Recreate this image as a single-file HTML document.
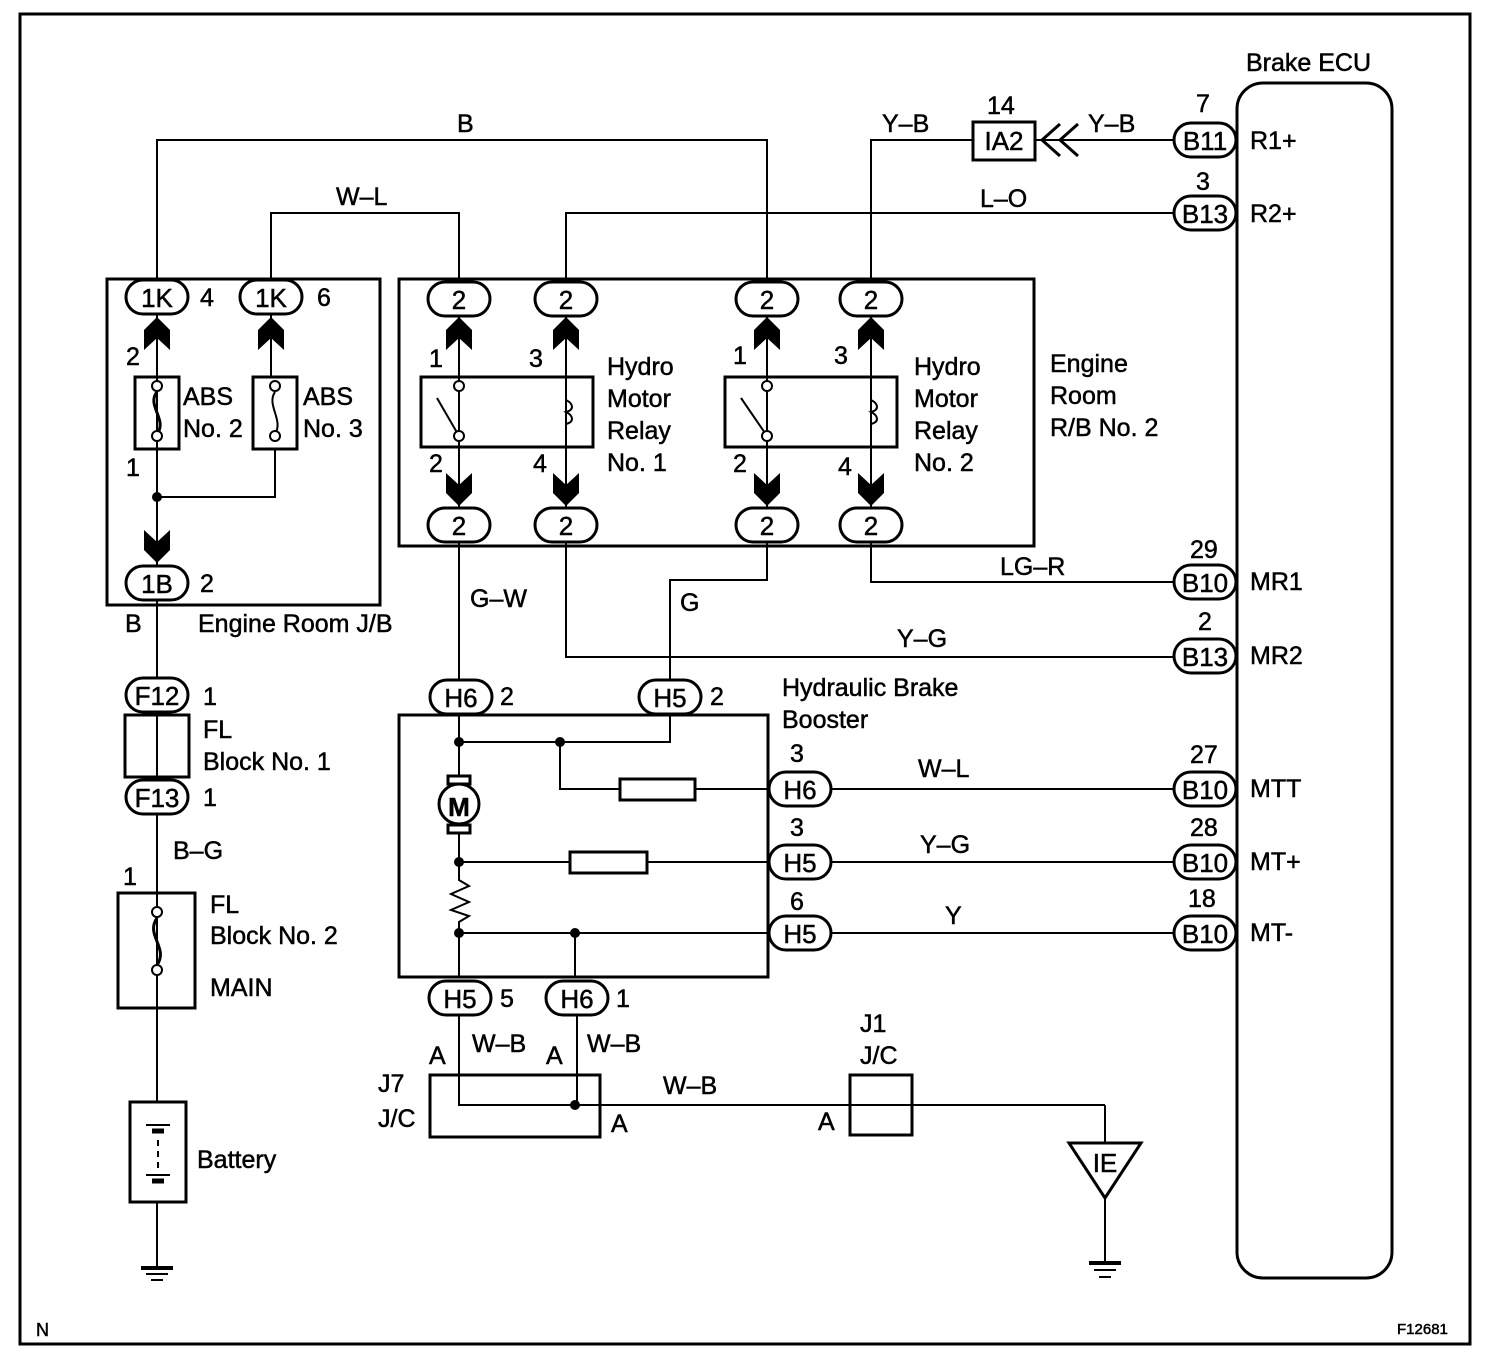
<!DOCTYPE html>
<html><head><meta charset="utf-8"><style>
html,body{margin:0;padding:0;background:#fff;}
svg{display:block;}
text{font-family:"Liberation Sans",Arial,sans-serif;fill:#000;stroke:#000;stroke-width:0.5;}
</style></head><body>
<svg width="1504" height="1364" viewBox="0 0 1504 1364" xmlns="http://www.w3.org/2000/svg">
<defs>
<g id="dn"><polygon points="-13,0 0,12 13,0 13,20 0,33 -13,20" fill="#000"/></g>
<g id="up"><polygon points="-13,0 0,-12 13,0 13,-20 0,-33 -13,-20" fill="#000"/></g>
</defs>
<g fill="none" stroke="#000" stroke-width="3">
<rect x="20" y="14" width="1450" height="1330" stroke-width="3"/>
<rect x="1237" y="83" width="155" height="1195" rx="26"/>
<rect x="107" y="279" width="273" height="326"/>
<rect x="399" y="279" width="635" height="267"/>
<rect x="421" y="377" width="172" height="70"/>
<rect x="725" y="377" width="172" height="70"/>
<rect x="135" y="377" width="44" height="72"/>
<rect x="253" y="377" width="44" height="72"/>
<rect x="125" y="715" width="64" height="62"/>
<rect x="118" y="893" width="77" height="115"/>
<rect x="130" y="1102" width="56" height="100"/>
<rect x="399" y="715" width="369" height="262"/>
<rect x="430" y="1075" width="170" height="62"/>
<rect x="850" y="1075" width="62" height="60"/>
<rect x="973" y="122" width="62" height="38"/>
<polyline points="157,279 157,140 767,140 767,281" stroke-width="2"/>
<polyline points="271,279 271,213 459,213 459,281" stroke-width="2"/>
<polyline points="566,281 566,213 1173,213" stroke-width="2"/>
<polyline points="871,281 871,140 973,140" stroke-width="2"/>
<line x1="1035" y1="140" x2="1173" y2="140" stroke-width="2"/>
<polyline points="1060,124 1042,140 1060,156" stroke-width="3"/>
<polyline points="1078,124 1060,140 1078,156" stroke-width="3"/>
<line x1="157" y1="315" x2="157" y2="565" stroke-width="2"/>
<line x1="271" y1="315" x2="271" y2="377" stroke-width="2"/>
<polyline points="157,497 275,497 275,449" stroke-width="2"/>
<line x1="459" y1="315" x2="459" y2="507" stroke-width="2"/>
<line x1="566" y1="315" x2="566" y2="507" stroke-width="2"/>
<line x1="767" y1="315" x2="767" y2="507" stroke-width="2"/>
<line x1="871" y1="315" x2="871" y2="507" stroke-width="2"/>
<line x1="459" y1="543" x2="459" y2="680" stroke-width="2"/>
<polyline points="566,543 566,657 1173,657" stroke-width="2"/>
<polyline points="767,543 767,580 670,580 670,680" stroke-width="2"/>
<polyline points="871,543 871,582 1173,582" stroke-width="2"/>
<line x1="157" y1="601" x2="157" y2="680" stroke-width="2"/>
<line x1="157" y1="713" x2="157" y2="780" stroke-width="2"/>
<line x1="157" y1="815" x2="157" y2="1102" stroke-width="2"/>
<line x1="157" y1="1202" x2="157" y2="1268" stroke-width="2"/>
<polyline points="459,715 459,780" stroke-width="2"/>
<polyline points="459,742 670,742 670,715" stroke-width="2"/>
<polyline points="560,742 560,789 620,789" stroke-width="2"/>
<line x1="695" y1="789" x2="768" y2="789" stroke-width="2"/>
<rect x="620" y="779" width="75" height="21"/>
<line x1="459" y1="828" x2="459" y2="870" stroke-width="2"/>
<line x1="459" y1="862" x2="570" y2="862" stroke-width="2"/>
<rect x="570" y="852" width="77" height="21"/>
<line x1="647" y1="862" x2="768" y2="862" stroke-width="2"/>
<polyline points="459,870 459,880 469,886 451,894 469,902 451,910 469,916 459,922 459,977" stroke-width="2"/>
<line x1="459" y1="933" x2="768" y2="933" stroke-width="2"/>
<line x1="575" y1="933" x2="575" y2="977" stroke-width="2"/>
<line x1="832" y1="789" x2="1173" y2="789" stroke-width="2"/>
<line x1="832" y1="862" x2="1173" y2="862" stroke-width="2"/>
<line x1="832" y1="933" x2="1173" y2="933" stroke-width="2"/>
<polyline points="459,1016 459,1105 600,1105" stroke-width="2"/>
<line x1="577" y1="1016" x2="577" y2="1105" stroke-width="2"/>
<line x1="600" y1="1105" x2="1105" y2="1105" stroke-width="2"/>
<line x1="1105" y1="1105" x2="1105" y2="1143" stroke-width="2"/>
<polygon points="1069,1143 1141,1143 1105,1198"/>
<line x1="1105" y1="1198" x2="1105" y2="1263" stroke-width="2"/>
<line x1="141" y1="1268" x2="173" y2="1268" stroke-width="4"/>
<line x1="146" y1="1274" x2="168" y2="1274" stroke-width="2"/>
<line x1="151" y1="1280" x2="163" y2="1280" stroke-width="2"/>
<line x1="1089" y1="1263" x2="1121" y2="1263" stroke-width="4"/>
<line x1="1094" y1="1270" x2="1116" y2="1270" stroke-width="2"/>
<line x1="1099" y1="1277" x2="1111" y2="1277" stroke-width="2"/>
<line x1="146" y1="1125" x2="170" y2="1125" stroke-width="2"/>
<line x1="152" y1="1131" x2="164" y2="1131" stroke-width="5"/>
<line x1="158" y1="1140" x2="158" y2="1170" stroke-width="2" stroke-dasharray="6,5"/>
<line x1="146" y1="1175" x2="170" y2="1175" stroke-width="2"/>
<line x1="152" y1="1181" x2="164" y2="1181" stroke-width="5"/>
<line x1="157" y1="715" x2="157" y2="777" stroke-width="2"/>
<path d="M157,392 C146,405 168,420 157,434" stroke-width="3"/>
<path d="M275,392 C266,405 284,420 275,434" stroke-width="2"/>
<path d="M157,918 C145,935 169,948 157,965" stroke-width="3"/>
<line x1="437" y1="398" x2="459" y2="436" stroke-width="2"/>
<line x1="741" y1="398" x2="767" y2="436" stroke-width="2"/>
<path d="M566,400 c8,4 8,10 0,12 c8,4 8,10 0,12" stroke-width="2"/>
<path d="M871,400 c8,4 8,10 0,12 c8,4 8,10 0,12" stroke-width="2"/>
<rect x="448" y="776" width="22" height="8" fill="#fff"/>
<rect x="448" y="825" width="22" height="8" fill="#fff"/>
<circle cx="459" cy="804" r="20" fill="#fff"/>
</g>
<g fill="#fff" stroke="#000" stroke-width="2">
<circle cx="157" cy="386" r="5"/><circle cx="157" cy="436" r="5"/>
<circle cx="275" cy="386" r="5"/><circle cx="275" cy="436" r="5"/>
<circle cx="459" cy="386" r="5"/><circle cx="459" cy="436" r="5"/>
<circle cx="767" cy="386" r="5"/><circle cx="767" cy="436" r="5"/>
<circle cx="157" cy="912" r="5"/><circle cx="157" cy="970" r="5"/>
</g>
<g fill="#000">
<circle cx="157" cy="497" r="5"/><circle cx="459" cy="742" r="5"/><circle cx="560" cy="742" r="5"/>
<circle cx="459" cy="862" r="5"/><circle cx="459" cy="933" r="5"/><circle cx="575" cy="933" r="5"/>
<circle cx="575" cy="1105" r="5"/>
</g>
<use href="#up" x="157" y="350"/><use href="#up" x="271" y="350"/>
<use href="#up" x="459" y="350"/><use href="#up" x="566" y="350"/>
<use href="#up" x="767" y="350"/><use href="#up" x="871" y="350"/>
<use href="#dn" x="459" y="473"/><use href="#dn" x="566" y="473"/>
<use href="#dn" x="767" y="473"/><use href="#dn" x="871" y="473"/>
<use href="#dn" x="157" y="530"/>
<g fill="#fff" stroke="#000" stroke-width="3">
<rect x="126" y="280" width="62" height="34" rx="17"/>
<rect x="240" y="280" width="62" height="34" rx="17"/>
<rect x="428" y="282" width="62" height="34" rx="17"/>
<rect x="535" y="282" width="62" height="34" rx="17"/>
<rect x="736" y="282" width="62" height="34" rx="17"/>
<rect x="840" y="282" width="62" height="34" rx="17"/>
<rect x="428" y="508" width="62" height="34" rx="17"/>
<rect x="535" y="508" width="62" height="34" rx="17"/>
<rect x="736" y="508" width="62" height="34" rx="17"/>
<rect x="840" y="508" width="62" height="34" rx="17"/>
<rect x="126" y="566" width="62" height="34" rx="17"/>
<rect x="126" y="678" width="62" height="34" rx="17"/>
<rect x="126" y="780" width="62" height="34" rx="17"/>
<rect x="430" y="680" width="62" height="34" rx="17"/>
<rect x="639" y="680" width="62" height="34" rx="17"/>
<rect x="769" y="772" width="62" height="34" rx="17"/>
<rect x="769" y="845" width="62" height="34" rx="17"/>
<rect x="769" y="916" width="62" height="34" rx="17"/>
<rect x="429" y="981" width="62" height="34" rx="17"/>
<rect x="546" y="981" width="62" height="34" rx="17"/>
<rect x="1174" y="123" width="62" height="34" rx="17"/>
<rect x="1174" y="196" width="62" height="34" rx="17"/>
<rect x="1174" y="565" width="62" height="34" rx="17"/>
<rect x="1174" y="639" width="62" height="34" rx="17"/>
<rect x="1174" y="772" width="62" height="34" rx="17"/>
<rect x="1174" y="845" width="62" height="34" rx="17"/>
<rect x="1174" y="916" width="62" height="34" rx="17"/>
</g>
<g font-size="26" text-anchor="middle">
<text x="157" y="307">1K</text><text x="271" y="307">1K</text>
<text x="459" y="309">2</text><text x="566" y="309">2</text><text x="767" y="309">2</text><text x="871" y="309">2</text>
<text x="459" y="535">2</text><text x="566" y="535">2</text><text x="767" y="535">2</text><text x="871" y="535">2</text>
<text x="157" y="593">1B</text><text x="157" y="705">F12</text><text x="157" y="807">F13</text>
<text x="461" y="707">H6</text><text x="670" y="707">H5</text>
<text x="800" y="799">H6</text><text x="800" y="872">H5</text><text x="800" y="943">H5</text>
<text x="460" y="1008">H5</text><text x="577" y="1008">H6</text>
<text x="1205" y="150">B11</text><text x="1205" y="223">B13</text><text x="1205" y="592">B10</text>
<text x="1205" y="666">B13</text><text x="1205" y="799">B10</text><text x="1205" y="872">B10</text><text x="1205" y="943">B10</text>
<text x="1004" y="150">IA2</text>
<text x="459" y="816" font-weight="bold">M</text>
<text x="1105" y="1172">IE</text>
</g>
<g font-size="25">
<text x="1246" y="71">Brake ECU</text>
<text x="1250" y="149">R1+</text><text x="1250" y="222">R2+</text><text x="1250" y="590">MR1</text>
<text x="1250" y="664">MR2</text><text x="1250" y="797">MTT</text><text x="1250" y="870">MT+</text><text x="1250" y="941">MT-</text>
<text x="1196" y="112">7</text><text x="1196" y="190">3</text><text x="1190" y="558">29</text><text x="1198" y="630">2</text>
<text x="1190" y="763">27</text><text x="1190" y="836">28</text><text x="1188" y="907">18</text>
<text x="987" y="114">14</text>
<text x="457" y="132">B</text><text x="336" y="205">W–L</text><text x="882" y="132">Y–B</text><text x="1088" y="132">Y–B</text>
<text x="980" y="207">L–O</text>
<text x="200" y="306">4</text><text x="317" y="306">6</text>
<text x="126" y="365">2</text><text x="126" y="476">1</text>
<text x="183" y="405">ABS</text><text x="183" y="437">No. 2</text>
<text x="303" y="405">ABS</text><text x="303" y="437">No. 3</text>
<text x="429" y="367">1</text><text x="529" y="367">3</text><text x="733" y="364">1</text><text x="834" y="364">3</text>
<text x="429" y="472">2</text><text x="533" y="472">4</text><text x="733" y="472">2</text><text x="838" y="475">4</text>
<text x="607" y="375">Hydro</text><text x="607" y="407">Motor</text><text x="607" y="439">Relay</text><text x="607" y="471">No. 1</text>
<text x="914" y="375">Hydro</text><text x="914" y="407">Motor</text><text x="914" y="439">Relay</text><text x="914" y="471">No. 2</text>
<text x="1050" y="372">Engine</text><text x="1050" y="404">Room</text><text x="1050" y="436">R/B No. 2</text>
<text x="200" y="592">2</text>
<text x="125" y="632">B</text><text x="198" y="632">Engine Room J/B</text>
<text x="470" y="607">G–W</text><text x="680" y="611">G</text>
<text x="1000" y="575">LG–R</text><text x="897" y="647">Y–G</text>
<text x="203" y="705">1</text><text x="203" y="738">FL</text><text x="203" y="770">Block No. 1</text><text x="203" y="806">1</text>
<text x="173" y="859">B–G</text><text x="123" y="885">1</text>
<text x="210" y="913">FL</text><text x="210" y="944">Block No. 2</text><text x="210" y="996">MAIN</text>
<text x="197" y="1168">Battery</text>
<text x="500" y="705">2</text><text x="710" y="705">2</text>
<text x="782" y="696">Hydraulic Brake</text><text x="782" y="728">Booster</text>
<text x="790" y="762">3</text><text x="790" y="836">3</text><text x="790" y="910">6</text>
<text x="918" y="777">W–L</text><text x="920" y="853">Y–G</text><text x="945" y="924">Y</text>
<text x="500" y="1007">5</text><text x="616" y="1007">1</text>
<text x="429" y="1064">A</text><text x="472" y="1052">W–B</text><text x="546" y="1064">A</text><text x="587" y="1052">W–B</text>
<text x="378" y="1092">J7</text><text x="378" y="1127">J/C</text><text x="611" y="1132">A</text>
<text x="663" y="1094">W–B</text><text x="818" y="1130">A</text>
<text x="860" y="1032">J1</text><text x="860" y="1064">J/C</text>
<text x="36" y="1336" font-size="18">N</text>
<text x="1397" y="1334" font-size="15">F12681</text>
</g>
</svg>
</body></html>
